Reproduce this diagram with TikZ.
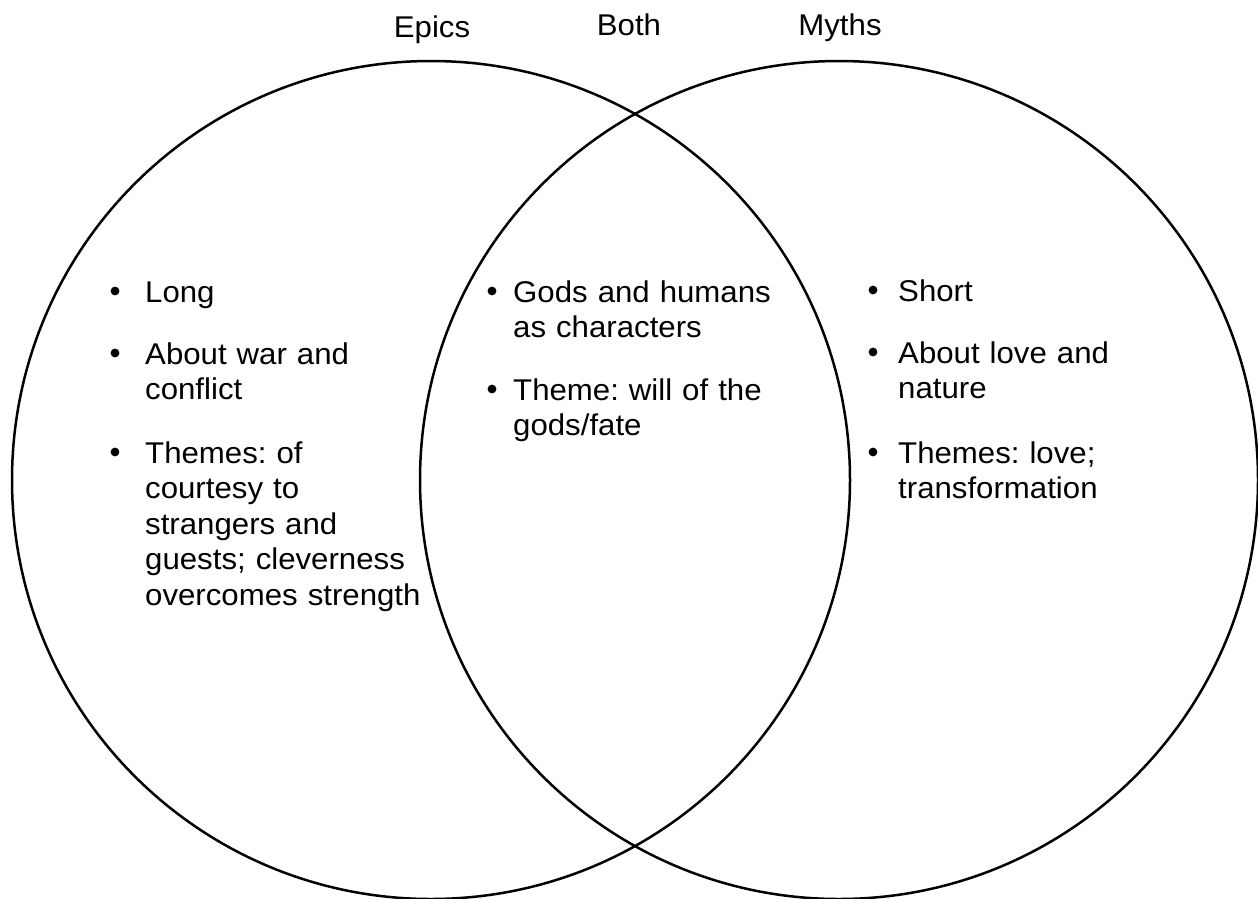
\documentclass[tikz,border=0pt]{standalone}
\usepackage{fontspec}
\setmainfont{Liberation Sans}[FakeStretch=1.04]
\frenchspacing
\begin{document}
\begin{tikzpicture}[x=1pt,y=-1pt,
  ring/.style={line width=2.5pt, draw=black},
  head/.style={font={\fontsize{30}{36}\selectfont}, inner sep=0pt, anchor=base},
  itemtext/.style={font={\fontsize{30}{35.5}\selectfont\frenchspacing}, inner sep=0pt, anchor=base west, text width=320pt, align=left},
  dot/.style={fill=black}]
\useasboundingbox (0,0) rectangle (1258,898);
\begin{scope}
\clip (0,0) rectangle (1258,898);
\draw[ring] (431,480) circle[radius=419];
\draw[ring] (839,480) circle[radius=419];
\end{scope}
% headings
\node[head] (hepics) at (432,37) {Epics};
\node[head] (hboth) at (629,35) {Both};
\node[head] (hmyths) at (840,35) {Myths};
% left column
\fill[dot] (115,291) circle[radius=4.4];
\node[itemtext] (l1) at (145,302) {Long};
\fill[dot] (115,353) circle[radius=4.4];
\node[itemtext] (l2) at (145,364) {About war and\\conflict};
\fill[dot] (115,452) circle[radius=4.4];
\node[itemtext] (l3) at (145,463) {Themes: of\\courtesy to\\strangers and\\guests; cleverness\\overcomes strength};
% middle column
\fill[dot] (492,291) circle[radius=4.4];
\node[itemtext] (m1) at (513,302) {Gods and humans\\as characters};
\fill[dot] (492,389) circle[radius=4.4];
\node[itemtext] (m2) at (513,400) {Theme: will of the\\gods/fate};
% right column
\fill[dot] (873,290) circle[radius=4.4];
\node[itemtext] (r1) at (898,301) {Short};
\fill[dot] (873,352) circle[radius=4.4];
\node[itemtext] (r2) at (898,363) {About love and\\nature};
\fill[dot] (873,452) circle[radius=4.4];
\node[itemtext] (r3) at (898,463) {Themes: love;\\transformation};
\end{tikzpicture}
\end{document}
